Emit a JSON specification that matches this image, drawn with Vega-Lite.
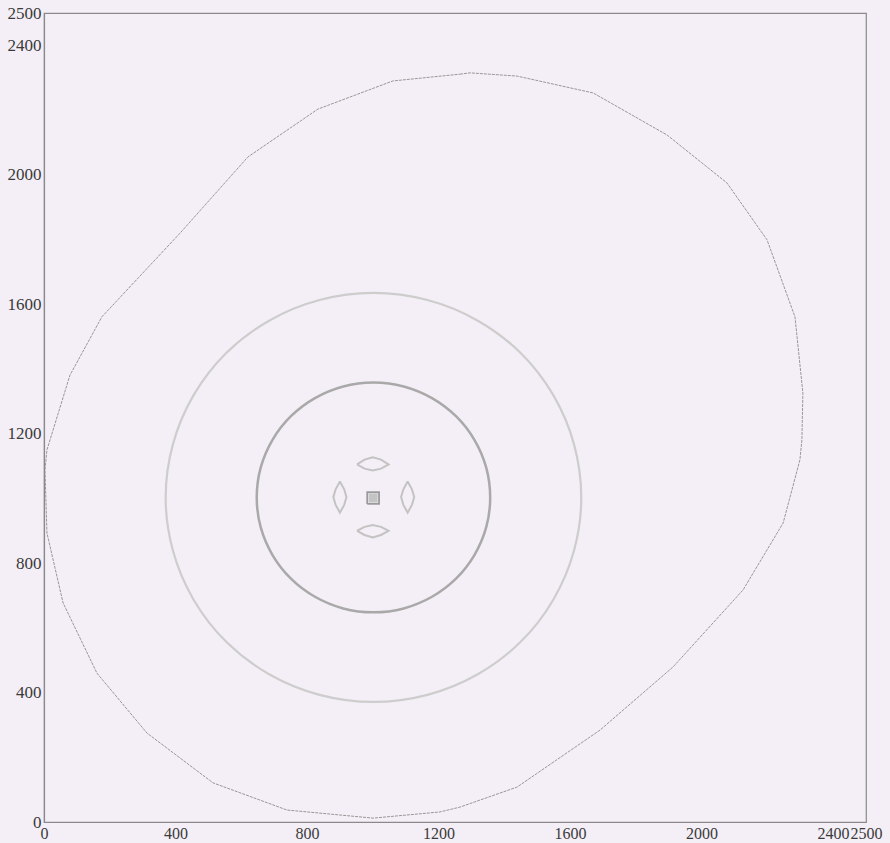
{
  "$schema": "https://vega.github.io/schema/vega-lite/v6.json",
  "autosize": "none",
  "width": 822,
  "height": 809,
  "padding": {"left": 44, "top": 13, "right": 24, "bottom": 21},
  "background": "#f4eff6",
  "config": {
    "view": {"stroke": "#8a8a8a", "strokeWidth": 1.2},
    "font": "Liberation Serif",
    "axis": {
      "domainColor": "#8a8a8a",
      "domainWidth": 1.2,
      "ticks": false,
      "grid": false,
      "labelFont": "Liberation Serif",
      "labelFontSize": 17,
      "labelColor": "#3a3a3a",
      "labelOverlap": false,
      "labelFlush": false,
      "format": "d",
      "title": null
    }
  },
  "datasets": {
    "pts": [
      {"s": "outer", "i": 0, "x": 1265, "y": 2311},
      {"s": "outer", "i": 1, "x": 1296, "y": 2315},
      {"s": "outer", "i": 2, "x": 1439, "y": 2305},
      {"s": "outer", "i": 3, "x": 1670, "y": 2253},
      {"s": "outer", "i": 4, "x": 1895, "y": 2123},
      {"s": "outer", "i": 5, "x": 2077, "y": 1975},
      {"s": "outer", "i": 6, "x": 2199, "y": 1799},
      {"s": "outer", "i": 7, "x": 2284, "y": 1561},
      {"s": "outer", "i": 8, "x": 2308, "y": 1326},
      {"s": "outer", "i": 9, "x": 2305, "y": 1180},
      {"s": "outer", "i": 10, "x": 2299, "y": 1119},
      {"s": "outer", "i": 11, "x": 2248, "y": 924},
      {"s": "outer", "i": 12, "x": 2126, "y": 717},
      {"s": "outer", "i": 13, "x": 1913, "y": 479},
      {"s": "outer", "i": 14, "x": 1691, "y": 284},
      {"s": "outer", "i": 15, "x": 1439, "y": 108},
      {"s": "outer", "i": 16, "x": 1265, "y": 46},
      {"s": "outer", "i": 17, "x": 1204, "y": 31},
      {"s": "outer", "i": 18, "x": 1001, "y": 12},
      {"s": "outer", "i": 19, "x": 739, "y": 37},
      {"s": "outer", "i": 20, "x": 514, "y": 121},
      {"s": "outer", "i": 21, "x": 313, "y": 275},
      {"s": "outer", "i": 22, "x": 161, "y": 460},
      {"s": "outer", "i": 23, "x": 58, "y": 677},
      {"s": "outer", "i": 24, "x": 9, "y": 893},
      {"s": "outer", "i": 25, "x": 3, "y": 1088},
      {"s": "outer", "i": 26, "x": 9, "y": 1150},
      {"s": "outer", "i": 27, "x": 79, "y": 1381},
      {"s": "outer", "i": 28, "x": 176, "y": 1561},
      {"s": "outer", "i": 29, "x": 414, "y": 1820},
      {"s": "outer", "i": 30, "x": 620, "y": 2055},
      {"s": "outer", "i": 31, "x": 833, "y": 2203},
      {"s": "outer", "i": 32, "x": 1061, "y": 2290},
      {"s": "outer", "i": 33, "x": 1265, "y": 2311},

      {"s": "light", "i": 0, "x": 1634, "y": 1003},
      {"s": "light", "i": 1, "x": 1612, "y": 1167},
      {"s": "light", "i": 2, "x": 1549, "y": 1319},
      {"s": "light", "i": 3, "x": 1449, "y": 1450},
      {"s": "light", "i": 4, "x": 1318, "y": 1550},
      {"s": "light", "i": 5, "x": 1166, "y": 1613},
      {"s": "light", "i": 6, "x": 1002, "y": 1635},
      {"s": "light", "i": 7, "x": 838, "y": 1613},
      {"s": "light", "i": 8, "x": 686, "y": 1550},
      {"s": "light", "i": 9, "x": 555, "y": 1450},
      {"s": "light", "i": 10, "x": 455, "y": 1319},
      {"s": "light", "i": 11, "x": 392, "y": 1167},
      {"s": "light", "i": 12, "x": 370, "y": 1003},
      {"s": "light", "i": 13, "x": 392, "y": 839},
      {"s": "light", "i": 14, "x": 455, "y": 687},
      {"s": "light", "i": 15, "x": 555, "y": 556},
      {"s": "light", "i": 16, "x": 686, "y": 456},
      {"s": "light", "i": 17, "x": 838, "y": 393},
      {"s": "light", "i": 18, "x": 1002, "y": 371},
      {"s": "light", "i": 19, "x": 1166, "y": 393},
      {"s": "light", "i": 20, "x": 1318, "y": 456},
      {"s": "light", "i": 21, "x": 1449, "y": 556},
      {"s": "light", "i": 22, "x": 1549, "y": 687},
      {"s": "light", "i": 23, "x": 1612, "y": 839},

      {"s": "dark", "i": 0, "x": 1357, "y": 1003},
      {"s": "dark", "i": 1, "x": 1345, "y": 1095},
      {"s": "dark", "i": 2, "x": 1309, "y": 1181},
      {"s": "dark", "i": 3, "x": 1253, "y": 1254},
      {"s": "dark", "i": 4, "x": 1180, "y": 1310},
      {"s": "dark", "i": 5, "x": 1094, "y": 1346},
      {"s": "dark", "i": 6, "x": 1002, "y": 1358},
      {"s": "dark", "i": 7, "x": 910, "y": 1346},
      {"s": "dark", "i": 8, "x": 824, "y": 1310},
      {"s": "dark", "i": 9, "x": 751, "y": 1254},
      {"s": "dark", "i": 10, "x": 695, "y": 1181},
      {"s": "dark", "i": 11, "x": 659, "y": 1095},
      {"s": "dark", "i": 12, "x": 647, "y": 1003},
      {"s": "dark", "i": 13, "x": 659, "y": 911},
      {"s": "dark", "i": 14, "x": 695, "y": 825},
      {"s": "dark", "i": 15, "x": 751, "y": 752},
      {"s": "dark", "i": 16, "x": 824, "y": 696},
      {"s": "dark", "i": 17, "x": 910, "y": 660},
      {"s": "dark", "i": 18, "x": 1002, "y": 648},
      {"s": "dark", "i": 19, "x": 1094, "y": 660},
      {"s": "dark", "i": 20, "x": 1180, "y": 696},
      {"s": "dark", "i": 21, "x": 1253, "y": 752},
      {"s": "dark", "i": 22, "x": 1309, "y": 825},
      {"s": "dark", "i": 23, "x": 1345, "y": 911},

      {"s": "lensT", "i": 0, "x": 952, "y": 1105},
      {"s": "lensT", "i": 1, "x": 975, "y": 1120},
      {"s": "lensT", "i": 2, "x": 1000, "y": 1127},
      {"s": "lensT", "i": 3, "x": 1025, "y": 1120},
      {"s": "lensT", "i": 4, "x": 1048, "y": 1105},
      {"s": "lensT", "i": 5, "x": 1025, "y": 1092},
      {"s": "lensT", "i": 6, "x": 1000, "y": 1086},
      {"s": "lensT", "i": 7, "x": 975, "y": 1092},
      {"s": "lensT", "i": 8, "x": 952, "y": 1105},

      {"s": "lensB", "i": 0, "x": 952, "y": 900},
      {"s": "lensB", "i": 1, "x": 975, "y": 912},
      {"s": "lensB", "i": 2, "x": 1000, "y": 918},
      {"s": "lensB", "i": 3, "x": 1025, "y": 912},
      {"s": "lensB", "i": 4, "x": 1048, "y": 900},
      {"s": "lensB", "i": 5, "x": 1025, "y": 887},
      {"s": "lensB", "i": 6, "x": 1000, "y": 879},
      {"s": "lensB", "i": 7, "x": 975, "y": 887},
      {"s": "lensB", "i": 8, "x": 952, "y": 900},

      {"s": "lensL", "i": 0, "x": 900, "y": 1052},
      {"s": "lensL", "i": 1, "x": 913, "y": 1028},
      {"s": "lensL", "i": 2, "x": 920, "y": 1004},
      {"s": "lensL", "i": 3, "x": 913, "y": 980},
      {"s": "lensL", "i": 4, "x": 900, "y": 956},
      {"s": "lensL", "i": 5, "x": 887, "y": 980},
      {"s": "lensL", "i": 6, "x": 880, "y": 1004},
      {"s": "lensL", "i": 7, "x": 887, "y": 1028},
      {"s": "lensL", "i": 8, "x": 900, "y": 1052},

      {"s": "lensR", "i": 0, "x": 1106, "y": 1052},
      {"s": "lensR", "i": 1, "x": 1119, "y": 1028},
      {"s": "lensR", "i": 2, "x": 1126, "y": 1004},
      {"s": "lensR", "i": 3, "x": 1119, "y": 980},
      {"s": "lensR", "i": 4, "x": 1106, "y": 956},
      {"s": "lensR", "i": 5, "x": 1093, "y": 980},
      {"s": "lensR", "i": 6, "x": 1086, "y": 1004},
      {"s": "lensR", "i": 7, "x": 1093, "y": 1028},
      {"s": "lensR", "i": 8, "x": 1106, "y": 1052},

      {"s": "sq", "i": 0, "x": 983, "y": 983},
      {"s": "sq", "i": 1, "x": 1019, "y": 983},
      {"s": "sq", "i": 2, "x": 1019, "y": 1019},
      {"s": "sq", "i": 3, "x": 983, "y": 1019},
      {"s": "sq", "i": 4, "x": 983, "y": 983}
    ]
  },
  "data": {"name": "pts"},
  "encoding": {
    "x": {
      "field": "x", "type": "quantitative",
      "scale": {"domain": [0, 2500], "nice": false, "zero": false},
      "axis": {"values": [0, 400, 800, 1200, 1600, 2000, 2400, 2500], "labelPadding": 3, "labelFontSize": 16}
    },
    "y": {
      "field": "y", "type": "quantitative",
      "scale": {"domain": [0, 2500], "nice": false, "zero": false},
      "axis": {"values": [0, 400, 800, 1200, 1600, 2000, 2400, 2500], "labelPadding": 3}
    },
    "order": {"field": "i", "type": "quantitative"},
    "detail": {"field": "s", "type": "nominal"}
  },
  "layer": [
    {
      "transform": [{"filter": "datum.s === 'outer'"}],
      "mark": {"type": "line", "stroke": "#8c8c8c", "strokeWidth": 0.9, "strokeDash": [3, 1]}
    },
    {
      "transform": [{"filter": "datum.s === 'light'"}],
      "mark": {"type": "line", "stroke": "#cdcdcd", "strokeWidth": 2.2, "interpolate": "cardinal-closed"}
    },
    {
      "transform": [{"filter": "datum.s === 'dark'"}],
      "mark": {"type": "line", "stroke": "#a9a9a9", "strokeWidth": 2.5, "interpolate": "cardinal-closed"}
    },
    {
      "transform": [{"filter": "indexof(datum.s, 'lens') === 0"}],
      "mark": {"type": "line", "stroke": "#c3c3c3", "strokeWidth": 2}
    },
    {
      "transform": [{"filter": "datum.s === 'sq'"}],
      "mark": {"type": "line", "stroke": "#9a9a9a", "strokeWidth": 1.8}
    },
    {
      "data": {"values": [{"x": 1001, "y": 1001}]},
      "mark": {"type": "square", "size": 80, "color": "#c4c4c4", "opacity": 1},
      "encoding": {"order": null, "detail": null}
    }
  ]
}
